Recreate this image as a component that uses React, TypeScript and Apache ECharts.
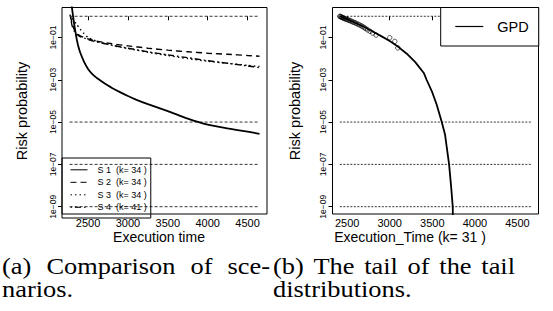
import React, { useEffect, useRef } from "react";
import * as echarts from "echarts";

// ---------- data ----------
const xTicks = [2500, 3000, 3500, 4000, 4500];
const yTickExps = [-9, -7, -5, -3, -1];
const refLevels = [1, 1e-5, 1e-7, 1e-9];
const refSpanLeft = [2268, 4650];
const refSpanRight = [2414, 4660];

const s1Time = [2280, 2300, 2320, 2340, 2360, 2380, 2400, 2450, 2500, 2550, 2600, 2650, 2700, 2750, 2800, 2900, 3000, 3100, 3250, 3500, 3750, 4000, 4250, 4500, 4650];
const s1Prob = [10, 2.2, 0.6, 0.2, 0.075, 0.035, 0.02, 7e-3, 3.2e-3, 1.9e-3, 1.3e-3, 9.5e-4, 7e-4, 5.3e-4, 4.1e-4, 2.6e-4, 1.7e-4, 1.15e-4, 7e-5, 3.3e-5, 1.45e-5, 7.5e-6, 5e-6, 3.5e-6, 2.8e-6];

const s2Time = [2280, 2300, 2330, 2360, 2400, 2500, 2600, 2800, 3000, 3250, 3500, 3750, 4000, 4250, 4500, 4650];
const s2Prob = [1.0, 0.45, 0.22, 0.15, 0.12, 0.085, 0.068, 0.05, 0.04, 0.031, 0.025, 0.021, 0.018, 0.016, 0.014, 0.013];

const s3Time = [2270, 2300, 2350, 2400, 2450, 2500, 2600, 2800, 3000, 3250, 3500, 3750, 4000, 4250, 4500, 4650];
const s3Prob = [1.2, 0.8, 0.45, 0.25, 0.15, 0.1, 0.068, 0.042, 0.03, 0.02, 0.014, 0.01, 0.0075, 0.006, 0.0048, 0.0042];

const s4Time = [2280, 2300, 2330, 2360, 2400, 2500, 2600, 2800, 3000, 3250, 3500, 3750, 4000, 4250, 4500, 4650];
const s4Prob = [0.9, 0.35, 0.19, 0.14, 0.11, 0.08, 0.062, 0.043, 0.031, 0.021, 0.015, 0.011, 0.008, 0.006, 0.0045, 0.0037];

const scenarioNames = ["S 1\u00a0 (k= 34 )", "S 2\u00a0 (k= 34 )", "S 3\u00a0 (k= 34 )", "S 4\u00a0 (k= 41 )"];

const gpdTime = [2414, 2500, 2600, 2700, 2800, 2900, 3000, 3100, 3200, 3300, 3400, 3433, 3500, 3550, 3611, 3650, 3697, 3720, 3740, 3747];
const gpdProb = [1.0, 0.72, 0.48, 0.31, 0.19, 0.115, 0.068, 0.036, 0.017, 0.0068, 0.0021, 1e-3, 2.5e-4, 7e-5, 1e-5, 2.5e-6, 1e-7, 1e-8, 1e-9, 1e-11];

const obsTime = [2414, 2420, 2428, 2436, 2444, 2452, 2462, 2472, 2484, 2496, 2510, 2522, 2536, 2550, 2565, 2580, 2596, 2612, 2630, 2648, 2665, 2684, 2702, 2720, 2742, 2770, 2800, 2840, 3000, 3060, 3095];
const obsProb = [1, 0.968, 0.935, 0.903, 0.871, 0.839, 0.806, 0.774, 0.742, 0.71, 0.677, 0.645, 0.613, 0.581, 0.548, 0.516, 0.484, 0.452, 0.419, 0.387, 0.355, 0.323, 0.29, 0.258, 0.226, 0.194, 0.161, 0.129, 0.097, 0.065, 0.032];

// ---------- helpers ----------
const lg = (p: number) => Math.log10(p);
const pairs = (t: number[], p: number[]) => t.map((x, i) => [x, lg(p[i])]);

const SANS = "Liberation Sans";
const SERIF = "Liberation Serif";

export default function App() {
  const ref = useRef<HTMLDivElement>(null);

  useEffect(() => {
    if (!ref.current) return;
    const chart = echarts.init(ref.current, undefined, { renderer: "svg" });

    const axisX = (i: number, min: number, max: number) => ({
      type: "value",
      gridIndex: i,
      min,
      max,
      axisLine: { show: false },
      splitLine: { show: false },
      axisTick: { show: true, length: 4, customValues: xTicks, lineStyle: { color: "#000", width: 1 } },
      axisLabel: {
        customValues: xTicks,
        fontSize: 11,
        color: "#000",
        margin: 3,
        fontFamily: SANS,
        formatter: (v: number) => String(v),
      },
    });
    const axisY = (i: number) => ({
      type: "value",
      gridIndex: i,
      min: -9.345,
      max: 0.415,
      axisLine: { show: false },
      splitLine: { show: false },
      axisTick: { show: true, length: 4, customValues: yTickExps, lineStyle: { color: "#000", width: 1 } },
      axisLabel: {
        customValues: yTickExps,
        rotate: 90,
        fontSize: 8.5,
        color: "#000",
        margin: 5,
        fontFamily: SANS,
        formatter: (v: number) => "1e\u22120" + String(-v),
      },
    });

    const dashes = [null, [6, 4], [1.5, 3], [1.5, 3, 6, 3]];
    const scenTimes = [s1Time, s2Time, s3Time, s4Time];
    const scenProbs = [s1Prob, s2Prob, s3Prob, s4Prob];

    const series: any[] = [];
    scenTimes.forEach((t, k) => {
      series.push({
        type: "line",
        name: scenarioNames[k],
        xAxisIndex: 0,
        yAxisIndex: 0,
        symbol: "none",
        smooth: 0.2,
        clip: true,
        data: pairs(t, scenProbs[k]),
        lineStyle: { color: "#000", width: k === 0 ? 1.8 : 1.4, type: dashes[k] ?? "solid" },
        itemStyle: { color: "#000" },
      });
    });
    refLevels.forEach((lv) => {
      series.push({
        type: "line",
        xAxisIndex: 0,
        yAxisIndex: 0,
        symbol: "none",
        silent: true,
        data: [[refSpanLeft[0], lg(lv)], [refSpanLeft[1], lg(lv)]],
        lineStyle: { color: "#000", width: 0.8, type: [3, 2] },
      });
      series.push({
        type: "line",
        xAxisIndex: 1,
        yAxisIndex: 1,
        symbol: "none",
        silent: true,
        data: [[refSpanRight[0], lg(lv)], [refSpanRight[1], lg(lv)]],
        lineStyle: { color: "#000", width: 0.8, type: [2, 1.5] },
      });
    });
    series.push({
      type: "line",
      name: "GPD",
      xAxisIndex: 1,
      yAxisIndex: 1,
      symbol: "none",
      clip: true,
      data: pairs(gpdTime, gpdProb),
      lineStyle: { color: "#000", width: 1.8 },
      itemStyle: { color: "#000" },
    });
    series.push({
      type: "scatter",
      xAxisIndex: 1,
      yAxisIndex: 1,
      symbol: "circle",
      symbolSize: 4.5,
      data: pairs(obsTime, obsProb),
      itemStyle: { color: "rgba(0,0,0,0)", borderColor: "#000", borderWidth: 0.8 },
    });

    const txt = (text: string, x: number, y: number, size: number, family: string, extra: any = {}) => {
      const { align, ...rest } = extra;
      return {
        type: "text",
        x,
        y,
        silent: true,
        ...rest,
        style: {
          text,
          fill: "#000",
          fontSize: size,
          fontFamily: family,
          align: align ?? "left",
          verticalAlign: "middle",
        },
      };
    };

    const capScale = { scaleX: 1.1 };
    const L1 = 266;
    const L2 = 289;
    const graphics = [
      txt("Risk probability", 22, 111, 14.5, SANS, { rotation: Math.PI / 2, align: "center" }),
      txt("Risk probability", 295, 111, 14.5, SANS, { rotation: Math.PI / 2, align: "center" }),
      txt("Execution time", 159, 237, 14, SANS, { align: "center" }),
      txt("Execution_Time (k= 31 )", 410, 237, 14, SANS, { align: "center" }),
      // captions (justified words)
      txt("(a)", 2, L1, 24, SERIF, capScale),
      txt("Comparison", 46.4, L1, 24, SERIF, capScale),
      txt("of", 190.5, L1, 24, SERIF, capScale),
      txt("sce-", 227.6, L1, 24, SERIF, capScale),
      txt("narios.", 2, L2, 24, SERIF, capScale),
      txt("(b)", 273, L1, 24, SERIF, capScale),
      txt("The", 313.5, L1, 24, SERIF, capScale),
      txt("tail", 364.2, L1, 24, SERIF, capScale),
      txt("of", 407.6, L1, 24, SERIF, capScale),
      txt("the", 439.3, L1, 24, SERIF, capScale),
      txt("tail", 481.3, L1, 24, SERIF, capScale),
      txt("distributions.", 273, L2, 24, SERIF, capScale),
    ];

    const option: any = {
      animation: false,
      backgroundColor: "#fff",
      textStyle: { fontFamily: SANS },
      grid: [
        { left: 62, top: 7.5, width: 205, height: 206.5, show: true, borderColor: "#000", borderWidth: 1, backgroundColor: "transparent", outerBoundsMode: "none" },
        { left: 332.5, top: 7.5, width: 206, height: 206.5, show: true, borderColor: "#000", borderWidth: 1, backgroundColor: "transparent", outerBoundsMode: "none" },
      ],
      xAxis: [axisX(0, 2173, 4744), axisX(1, 2328, 4747)],
      yAxis: [axisY(0), axisY(1)],
      legend: [
        {
          data: scenarioNames,
          orient: "vertical",
          left: 62,
          top: 158,
          selectedMode: false,
          borderColor: "#000",
          borderWidth: 1,
          backgroundColor: "transparent",
          itemWidth: 17,
          itemHeight: 8,
          itemGap: 3.5,
          padding: [7.3, 4, 6.2, 8],
          itemStyle: { color: "rgba(0,0,0,0)", borderWidth: 0, opacity: 0 },
          lineStyle: { width: 1 },
          textStyle: { fontSize: 9, color: "#000", fontFamily: SANS, lineHeight: 8, padding: [0, 0, 0, 5] },
          z: 10,
        },
        {
          data: ["GPD"],
          orient: "vertical",
          left: 440.7,
          top: 7.5,
          selectedMode: false,
          borderColor: "#000",
          borderWidth: 1,
          backgroundColor: "#fff",
          itemWidth: 28,
          itemHeight: 14,
          padding: [11.5, 10, 12, 14],
          itemStyle: { color: "rgba(0,0,0,0)", borderWidth: 0, opacity: 0 },
          lineStyle: { width: 1.2 },
          textStyle: { fontSize: 14.5, color: "#000", fontFamily: SANS, padding: [0, 0, 0, 9] },
          z: 10,
        },
      ],
      series,
      graphic: { elements: graphics },
    };

    chart.setOption(option);
    return () => chart.dispose();
  }, []);

  return (
    <div
      ref={ref}
      style={{ position: "fixed", left: 0, top: 0, width: 553, height: 311, background: "#fff" }}
    />
  );
}
